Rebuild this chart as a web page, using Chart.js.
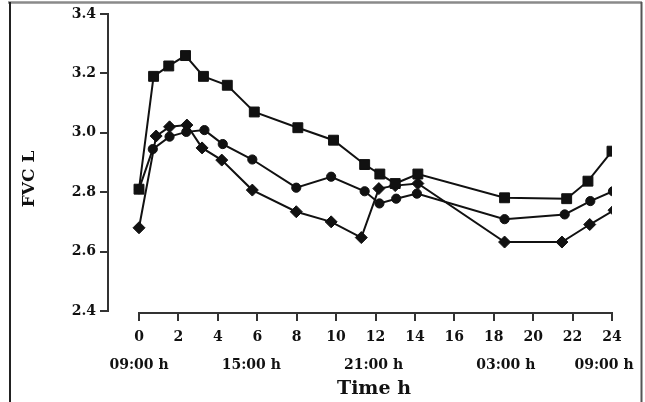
<!DOCTYPE html>
<html>
<head>
<meta charset="utf-8">
<script src="https://cdn.jsdelivr.net/npm/chart.js@4"></script>
<style>
  html, body { margin: 0; padding: 0; background: #fff; }
  #wrap { width: 645px; height: 402px; position: relative; }
</style>
</head>
<body>
<div id="wrap"><canvas id="c" width="645" height="402"></canvas></div>
<script>
// ---- data ----
const timeSquares   = [0, 0.74, 1.51, 2.36, 3.27, 4.48, 5.85, 8.06, 9.87, 11.45, 12.22, 13.0, 14.15, 18.55, 21.7, 22.78, 24.0];
const fvcSquares    = [2.81, 3.19, 3.225, 3.26, 3.19, 3.16, 3.07, 3.017, 2.975, 2.893, 2.861, 2.829, 2.861, 2.781, 2.778, 2.837, 2.938];
const timeCircles   = [0, 0.7, 1.55, 2.4, 3.32, 4.25, 5.75, 7.98, 9.75, 11.45, 12.2, 13.05, 14.1, 18.55, 21.6, 22.9, 24.05];
const fvcCircles    = [2.81, 2.945, 2.987, 3.003, 3.009, 2.962, 2.91, 2.815, 2.852, 2.803, 2.762, 2.778, 2.795, 2.709, 2.725, 2.77, 2.803];
const timeDiamonds  = [0, 0.87, 1.55, 2.43, 3.2, 4.2, 5.75, 7.98, 9.75, 11.28, 12.17, 13.0, 14.15, 18.55, 21.46, 22.87, 24.1];
const fvcDiamonds   = [2.68, 2.989, 3.02, 3.026, 2.949, 2.908, 2.807, 2.734, 2.70, 2.647, 2.812, 2.822, 2.829, 2.632, 2.632, 2.691, 2.739];
const xTickValues   = [0, 2, 4, 6, 8, 10, 12, 14, 16, 18, 20, 22, 24];
const yTickValues   = [2.4, 2.6, 2.8, 3.0, 3.2, 3.4];
const clockHours    = [0, 6, 12, 18, 24];
const clockLabels   = ['09:00 h', '15:00 h', '21:00 h', '03:00 h', '09:00 h'];
const xTitle = 'Time h';
const yTitle = 'FVC L';

// ---- styles ----
const INK = '#111';
const FONT = '"DejaVu Serif", serif';
const clockNudge = [0, -6, -2, 12, -8];

function pts(xs, ys) { return xs.map((x, i) => ({ x: x, y: ys[i] })); }

const decor = {
  id: 'decor',
  beforeDraw(chart) {
    const ctx = chart.ctx;
    ctx.save();
    ctx.strokeStyle = '#8a8a8a';
    ctx.lineWidth = 2.5;
    ctx.beginPath(); ctx.moveTo(8, 2.5); ctx.lineTo(642, 2.5); ctx.stroke();
    ctx.strokeStyle = '#222';
    ctx.lineWidth = 2;
    ctx.beginPath(); ctx.moveTo(10, 2); ctx.lineTo(10, 402); ctx.stroke();
    ctx.strokeStyle = '#555';
    ctx.beginPath(); ctx.moveTo(641.5, 2); ctx.lineTo(641.5, 402); ctx.stroke();
    ctx.restore();
  },
  afterDraw(chart) {
    const ctx = chart.ctx;
    const xs = chart.scales.x, ys = chart.scales.y;
    ctx.save();
    ctx.strokeStyle = '#333';
    ctx.lineWidth = 2;
    const ax = chart.chartArea.left;
    ctx.beginPath();
    ctx.moveTo(ax, ys.getPixelForValue(yTickValues[0]) + 1);
    ctx.lineTo(ax, ys.getPixelForValue(yTickValues[yTickValues.length - 1]) - 1);
    ctx.stroke();
    const ay = chart.chartArea.bottom;
    ctx.beginPath();
    ctx.moveTo(xs.getPixelForValue(xTickValues[0]) - 1, ay);
    ctx.lineTo(xs.getPixelForValue(xTickValues[xTickValues.length - 1]) + 1, ay);
    ctx.stroke();
    ctx.fillStyle = INK;
    ctx.font = 'bold 14px ' + FONT;
    ctx.textAlign = 'center';
    ctx.textBaseline = 'middle';
    clockHours.forEach((h, i) => {
      ctx.fillText(clockLabels[i], xs.getPixelForValue(h) + clockNudge[i], 365);
    });
    ctx.font = 'bold 19px ' + FONT;
    ctx.fillText(xTitle, 374, 389);
    ctx.save();
    ctx.translate(30, 179);
    ctx.rotate(-Math.PI / 2);
    ctx.font = 'bold 17px ' + FONT;
    ctx.fillText(yTitle, 0, 0);
    ctx.restore();
    ctx.restore();
  }
};

const common = {
  borderColor: INK,
  backgroundColor: INK,
  pointBackgroundColor: INK,
  pointBorderColor: INK,
  borderWidth: 2,
  pointBorderWidth: 1,
  tension: 0,
  fill: false,
  showLine: true
};

new Chart(document.getElementById('c'), {
  type: 'line',
  data: {
    datasets: [
      Object.assign({ label: 'squares', data: pts(timeSquares, fvcSquares), pointStyle: 'rect', pointRadius: 7 }, common),
      Object.assign({ label: 'circles', data: pts(timeCircles, fvcCircles), pointStyle: 'circle', pointRadius: 4.6 }, common),
      Object.assign({ label: 'diamonds', data: pts(timeDiamonds, fvcDiamonds), pointStyle: 'rectRot', pointRadius: 6 }, common)
    ]
  },
  options: {
    responsive: false,
    animation: false,
    events: [],
    layout: { padding: { left: 0, top: 14, right: 33, bottom: 0 } },
    plugins: { legend: { display: false }, tooltip: { enabled: false } },
    scales: {
      x: {
        type: 'linear',
        min: -1.573,
        max: 24,
        afterBuildTicks: (s) => { s.ticks = xTickValues.map(v => ({ value: v })); },
        afterFit: (s) => { s.height = 89; },
        border: { display: false },
        grid: { drawOnChartArea: false, drawTicks: true, tickLength: 8, color: '#333', lineWidth: 2 },
        ticks: { color: INK, font: { family: FONT, size: 14, weight: 'bold' }, padding: 8, maxRotation: 0, autoSkip: false }
      },
      y: {
        min: 2.393,
        max: 3.4,
        afterBuildTicks: (s) => { s.ticks = yTickValues.map(v => ({ value: v })); },
        afterFit: (s) => { s.width = 108; },
        border: { display: false },
        grid: { drawOnChartArea: false, drawTicks: true, tickLength: 8, color: '#333', lineWidth: 2 },
        ticks: { color: INK, font: { family: FONT, size: 14, weight: 'bold' }, padding: 4, callback: (v) => Number(v).toFixed(1) }
      }
    }
  },
  plugins: [decor]
});
</script>
</body>
</html>
